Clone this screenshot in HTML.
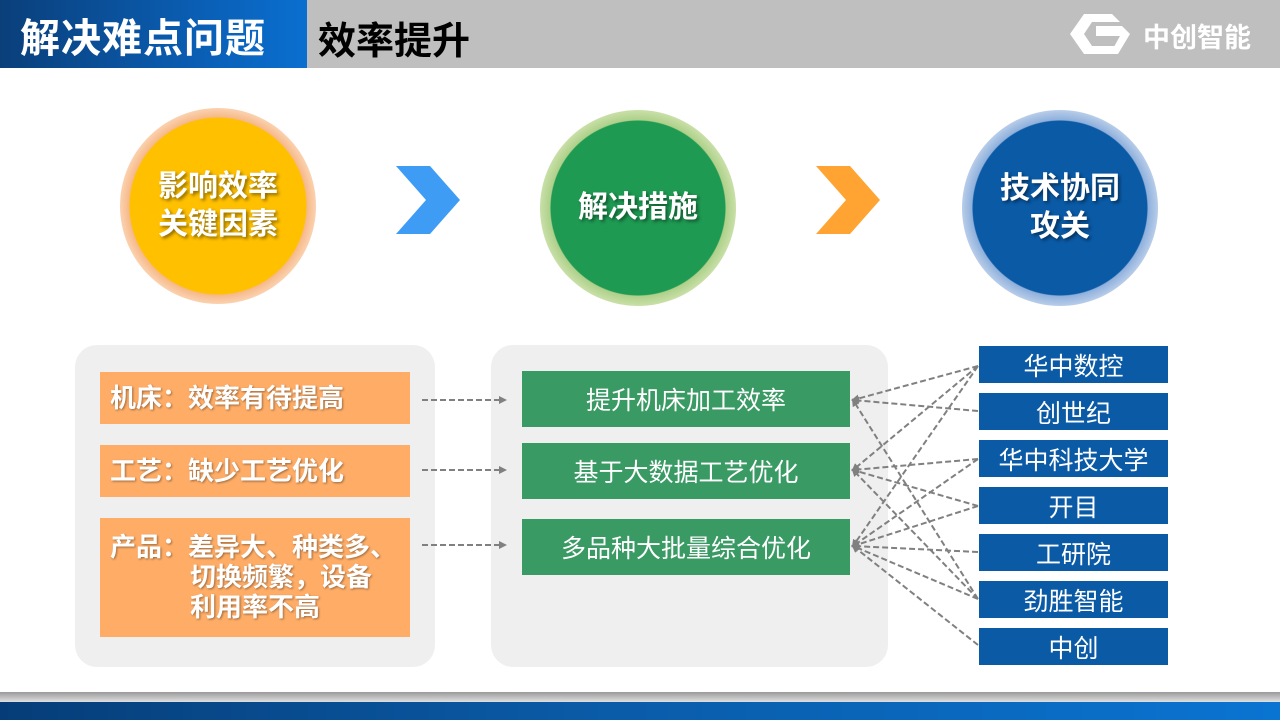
<!DOCTYPE html>
<html><head><meta charset="utf-8">
<style>
*{margin:0;padding:0;box-sizing:border-box}
body{width:1280px;height:720px;position:relative;overflow:hidden;background:#fff;font-family:"Liberation Sans","Noto Sans CJK SC",sans-serif}
.abs{position:absolute}
.hdr{left:0;top:0;width:1280px;height:68px;background:#bfbfbf}
.hl{left:0;top:0;width:307px;height:68px;background:linear-gradient(90deg,#0a3f7a,#0a5cb0 60%,#0a6fd0)}
.t1{left:20px;top:6px;font-size:40px;font-weight:bold;color:#fff;letter-spacing:1px}
.t2{left:318px;top:10px;font-size:38px;font-weight:bold;color:#000}
.circ{border-radius:50%;display:flex;align-items:center;justify-content:center;text-align:center;color:#fff;font-weight:bold;font-size:30px;line-height:38px;text-shadow:2px 2px 3px rgba(0,0,0,.45)}
.panel{background:#efefef;border-radius:22px}
.ob{background:#ffad66;color:#fff;font-weight:bold;font-size:26px;text-shadow:1px 1px 2px rgba(0,0,0,.4);padding-left:10px}
.gb{background:#3a9a64;color:#fff;font-size:25px;display:flex;align-items:center;justify-content:center}
.bb{left:979px;width:189px;height:37px;background:#0a5aa6;color:#fff;font-size:25px;display:flex;align-items:center;justify-content:center}
</style></head><body>
<div class="abs hdr"></div>
<div class="abs hl"></div>
<div class="abs t1">解决难点问题</div>
<div class="abs t2">效率提升</div>
<svg class="abs" style="left:1070px;top:12px" width="70" height="44" viewBox="0 0 70 44">
<polygon points="0,22 14,2 42,2 50,10 22,10 14,22 22,34 46,34 40,42 14,42" fill="#fff"/>
<polygon points="26,14 52,14 60,22 48,42 40,42 50,24 26,24" fill="#fff"/>
</svg>
<div class="abs" style="left:1143px;top:16px;font-size:27px;font-weight:bold;color:#fff">中创智能</div>

<div class="abs circ" style="left:120px;top:108px;width:196px;height:196px;background:radial-gradient(circle,#ffc000 88px,#f6b98a 89px,#fbd2b0 98px)">影响效率<br>关键因素</div>
<div class="abs circ" style="left:540px;top:110px;width:196px;height:196px;background:radial-gradient(circle,#1e9a52 87px,#aed08a 88px,#c9e0a8 98px)">解决措施</div>
<div class="abs circ" style="left:962px;top:110px;width:196px;height:196px;background:radial-gradient(circle,#0a5aa6 87px,#8fb0dc 88px,#b8cde9 98px)">技术协同<br>攻关</div>
<svg class="abs" style="left:396px;top:166px" width="64" height="70"><polygon points="0,0 34,0 64,34 34,68 0,68 30,34" fill="#3f9cf5"/></svg>
<svg class="abs" style="left:816px;top:166px" width="64" height="70"><polygon points="0,0 34,0 64,34 34,68 0,68 30,34" fill="#ffa333"/></svg>

<div class="abs panel" style="left:75px;top:345px;width:360px;height:322px"></div>
<div class="abs panel" style="left:491px;top:345px;width:397px;height:322px"></div>
<div class="abs ob" style="left:100px;top:372px;width:310px;height:52px;line-height:52px">机床：效率有待提高</div>
<div class="abs ob" style="left:100px;top:445px;width:310px;height:52px;line-height:52px">工艺：缺少工艺优化</div>
<div class="abs ob" style="left:100px;top:518px;width:310px;height:119px;padding-top:14px;line-height:30px">产品：差异大、种类多、<br><span style="padding-left:80px">切换频繁，设备</span><br><span style="padding-left:80px">利用率不高</span></div>
<div class="abs gb" style="left:522px;top:371px;width:328px;height:56px">提升机床加工效率</div>
<div class="abs gb" style="left:522px;top:443px;width:328px;height:56px">基于大数据工艺优化</div>
<div class="abs gb" style="left:522px;top:519px;width:328px;height:56px">多品种大批量综合优化</div>
<div class="abs bb" style="top:346px">华中数控</div>
<div class="abs bb" style="top:393px">创世纪</div>
<div class="abs bb" style="top:440px">华中科技大学</div>
<div class="abs bb" style="top:487px">开目</div>
<div class="abs bb" style="top:534px">工研院</div>
<div class="abs bb" style="top:581px">劲胜智能</div>
<div class="abs bb" style="top:628px">中创</div>

<svg class="abs" style="left:0;top:0" width="1280" height="720">
<defs><marker id="a" markerWidth="8" markerHeight="8" refX="6" refY="4" orient="auto" markerUnits="userSpaceOnUse"><polygon points="0,0 8,4 0,8" fill="#808080"/></marker></defs>
<g stroke="#808080" stroke-width="2" stroke-dasharray="6,3" fill="none" marker-end="url(#a)">
<line x1="422" y1="400" x2="505" y2="400"/>
<line x1="422" y1="470" x2="505" y2="470"/>
<line x1="422" y1="545" x2="505" y2="545"/>
<line x1="978" y1="366" x2="853" y2="400"/>
<line x1="978" y1="411" x2="853" y2="400"/>
<line x1="978" y1="599" x2="853" y2="400"/>
<line x1="978" y1="366" x2="853" y2="470"/>
<line x1="978" y1="459" x2="853" y2="470"/>
<line x1="978" y1="506" x2="853" y2="470"/>
<line x1="978" y1="599" x2="853" y2="470"/>
<line x1="978" y1="366" x2="853" y2="546"/>
<line x1="978" y1="459" x2="853" y2="546"/>
<line x1="978" y1="506" x2="853" y2="546"/>
<line x1="978" y1="552" x2="853" y2="546"/>
<line x1="978" y1="599" x2="853" y2="546"/>
<line x1="978" y1="645" x2="853" y2="546"/>
</g></svg>

<div class="abs" style="left:0;top:692px;width:1280px;height:10px;background:linear-gradient(#9a9a9a,#e0e0e0)"></div>
<div class="abs" style="left:0;top:702px;width:1280px;height:18px;background:linear-gradient(90deg,#063d78,#0a5aa6 45%,#0a74d2)"></div>
</body></html>
